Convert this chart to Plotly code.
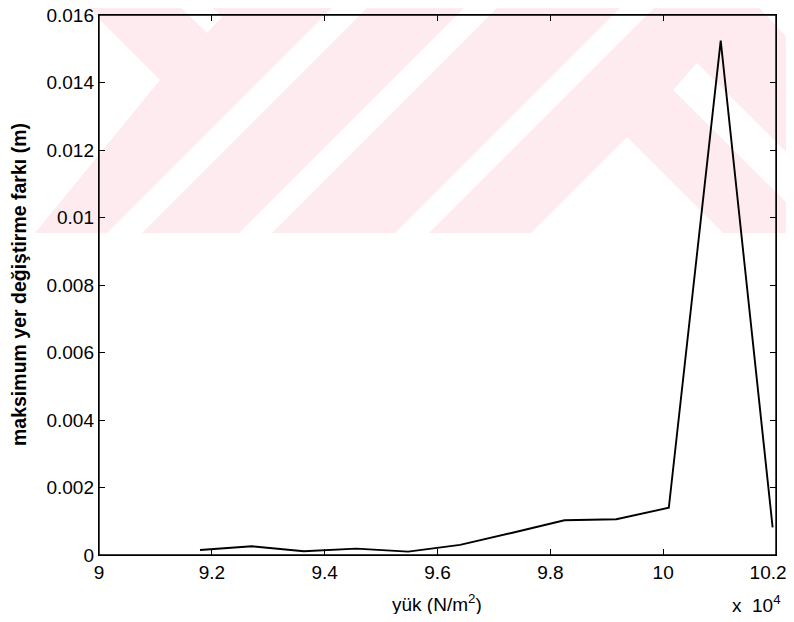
import plotly.graph_objects as go

# yük (N/m^2) ve maksimum yer değiştirme farkı (m)
yuk = [91790, 92710, 93630, 94560, 95480, 96400, 97330, 98250, 99170, 100100, 101020, 101940]
fark = [0.00015, 0.00026, 0.00011, 0.00019, 0.00010, 0.00030, 0.00066, 0.00103, 0.00106, 0.00140, 0.01524, 0.00082]

x_ticks = [9, 9.2, 9.4, 9.6, 9.8, 10, 10.2]
x_ticktext = ["9", "9.2", "9.4", "9.6", "9.8", "10", "10.2"]
y_ticks = [0, 0.002, 0.004, 0.006, 0.008, 0.01, 0.012, 0.014, 0.016]
y_ticktext = ["0", "0.002", "0.004", "0.006", "0.008", "0.01", "0.012", "0.014", "0.016"]

# sayfanın body kenar boşluğu (8px, iki yanda) yüzünden figür küçültüldü
OFF = 8
W, H = 794 - 2 * OFF, 622 - 2 * OFF
L, T = 99 - OFF, 15 - OFF
R, B = W - (776 - OFF), H - (555 - OFF)
PW, PH = W - L - R, H - T - B

PINK = "#fdebef"
FONT = "Liberation Sans, Arial"


def to_paper(px, py):
    # pencere pikseli -> paper
    return (px - OFF - L) / PW, (H - B - (py - OFF)) / PH


def px_path(points):
    parts = []
    for i, (px, py) in enumerate(points):
        xp, yp = to_paper(px, py)
        parts.append(("M" if i == 0 else "L") + f"{xp:.4f},{yp:.4f}")
    return " ".join(parts) + " Z"


# arka plandaki filigran
band = [(0, 0), (794, 0), (794, 233), (0, 233)]
whites = [
    [(0, 0), (80, 0), (160, 80), (35, 233), (0, 233)],
    [(173, 0), (205, 0), (222, 17), (207, 33)],
    [(340, 0), (375, 0), (142, 233), (107, 233)],
    [(472, 0), (505, 0), (272, 233), (239, 233)],
    [(628, 0), (662, 0), (429, 233), (395, 233)],
    [(531, 233), (627, 137), (723, 233)],
    [(697, 63), (794, 160), (794, 210), (673, 90)],
    [(752, 0), (794, 0), (794, 45)],
]

shapes = [dict(type="path", xref="paper", yref="paper", path=px_path(band),
               fillcolor=PINK, line_width=0, layer="below")]
for w in whites:
    shapes.append(dict(type="path", xref="paper", yref="paper", path=px_path(w),
                       fillcolor="white", line_width=0, layer="below"))
# çerçeve
shapes.append(dict(type="rect", xref="paper", yref="paper", x0=0, x1=1, y0=0, y1=1,
                   line=dict(color="black", width=1.4), fillcolor="rgba(0,0,0,0)", layer="above"))

fig = go.Figure()
fig.add_trace(go.Scatter(
    x=[v / 1e4 for v in yuk], y=fark, mode="lines",
    line=dict(color="black", width=1.9), showlegend=False, cliponaxis=False,
))

axis_font = dict(family=FONT, size=19, color="black")
common = dict(
    showgrid=False, zeroline=False, showline=True, linecolor="black", linewidth=1.4,
    mirror="ticks", ticks="inside", ticklen=6, tickcolor="black", tickwidth=1.3,
    tickfont=axis_font, automargin=False, ticklabeloverflow="allow",
)

# son etiket sağ kenarda kesilmesin diye biraz sola kaydırılıyor
x_labels = x_ticktext[:-1] + [x_ticktext[-1] + "&nbsp;&nbsp;&nbsp;"]

fig.update_xaxes(range=[9, 10.2], tickvals=x_ticks, ticktext=x_labels, **common)
fig.update_yaxes(range=[0, 0.016], tickvals=y_ticks, ticktext=y_ticktext, **common)

# eksen başlıkları
x0, y0 = to_paper(437, 603)
fig.add_annotation(x=x0, y=y0, xref="paper", yref="paper", xanchor="center", yanchor="middle",
                   text="yük (N/m<sup>2</sup>)", showarrow=False, font=dict(family=FONT, size=19, color="black"))
x0, y0 = to_paper(19, 285)
fig.add_annotation(x=x0, y=y0, xref="paper", yref="paper", xanchor="center", yanchor="middle",
                   text="<b>maksimum yer değiştirme farkı (m)</b>", textangle=-90, showarrow=False,
                   font=dict(family=FONT, size=19.5, color="black"))
x0, y0 = to_paper(783, 604)
fig.add_annotation(x=x0, y=y0, xref="paper", yref="paper", xanchor="right", yanchor="middle",
                   text="x&nbsp;&nbsp;10<sup>4</sup>", showarrow=False, font=dict(family=FONT, size=19, color="black"))

fig.update_layout(
    width=W, height=H,
    margin=dict(l=L, r=R, t=T, b=B),
    paper_bgcolor="white", plot_bgcolor="rgba(0,0,0,0)",
    shapes=shapes,
)

fig.write_html("out.html")
